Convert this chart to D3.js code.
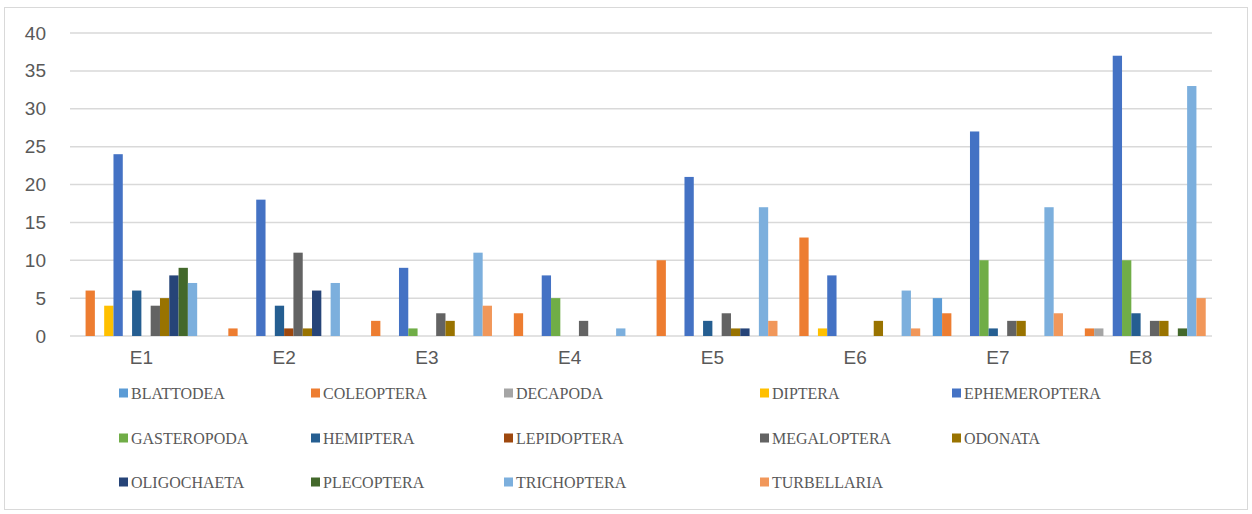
<!DOCTYPE html>
<html>
<head>
<meta charset="utf-8">
<script src="https://cdn.jsdelivr.net/npm/d3@7"></script>
<style>
  html, body { margin: 0; padding: 0; background: #fff; }
  svg { display: block; }
</style>
</head>
<body>
<svg id="chart" width="1252" height="514"></svg>
<script>
// Sampling stations
const stations = ["E1", "E2", "E3", "E4", "E5", "E6", "E7", "E8"];

// Taxa (orders / classes) counted at each station
const taxa = ["BLATTODEA", "COLEOPTERA", "DECAPODA", "DIPTERA", "EPHEMEROPTERA",
  "GASTEROPODA", "HEMIPTERA", "LEPIDOPTERA", "MEGALOPTERA", "ODONATA",
  "OLIGOCHAETA", "PLECOPTERA", "TRICHOPTERA", "TURBELLARIA"];

// Counts per taxon, one value per station E1..E8
const BLATTODEA     = [0, 0, 0, 0, 0, 0, 5, 0];
const COLEOPTERA    = [6, 1, 2, 3, 10, 13, 3, 1];
const DECAPODA      = [0, 0, 0, 0, 0, 0, 0, 1];
const DIPTERA       = [4, 0, 0, 0, 0, 1, 0, 0];
const EPHEMEROPTERA = [24, 18, 9, 8, 21, 8, 27, 37];
const GASTEROPODA   = [0, 0, 1, 5, 0, 0, 10, 10];
const HEMIPTERA     = [6, 4, 0, 0, 2, 0, 1, 3];
const LEPIDOPTERA   = [0, 1, 0, 0, 0, 0, 0, 0];
const MEGALOPTERA   = [4, 11, 3, 2, 3, 0, 2, 2];
const ODONATA       = [5, 1, 2, 0, 1, 2, 2, 2];
const OLIGOCHAETA   = [8, 6, 0, 0, 1, 0, 0, 0];
const PLECOPTERA    = [9, 0, 0, 0, 0, 0, 0, 1];
const TRICHOPTERA   = [7, 7, 11, 1, 17, 6, 17, 33];
const TURBELLARIA   = [0, 0, 4, 0, 2, 1, 3, 5];

const yTicks = [0, 5, 10, 15, 20, 25, 30, 35, 40];

const seriesValues = [BLATTODEA, COLEOPTERA, DECAPODA, DIPTERA, EPHEMEROPTERA,
  GASTEROPODA, HEMIPTERA, LEPIDOPTERA, MEGALOPTERA, ODONATA,
  OLIGOCHAETA, PLECOPTERA, TRICHOPTERA, TURBELLARIA];

const colors = ["#5B9BD5", "#ED7D31", "#A5A5A5", "#FFC000", "#4472C4",
  "#70AD47", "#255E91", "#9E480E", "#636363", "#997300",
  "#264478", "#43682B", "#7CAFDD", "#F1975A"];

const svg = d3.select("#chart");

// outer chart frame
svg.append("rect")
  .attr("x", 4.5).attr("y", 7.5)
  .attr("width", 1243).attr("height", 502)
  .attr("fill", "#fff")
  .attr("stroke", "#d9d9d9").attr("stroke-width", 1);

const plot = { left: 70, right: 1212, top: 33, bottom: 336 };

const x0 = d3.scaleBand().domain(stations).range([plot.left, plot.right]);
const x1 = d3.scaleBand().domain(taxa).range([0, x0.bandwidth()])
  .paddingInner(0).paddingOuter(0.675);
const y = d3.scaleLinear().domain([0, 40]).range([plot.bottom, plot.top]);
const color = d3.scaleOrdinal().domain(taxa).range(colors);

// horizontal gridlines
svg.append("g")
  .selectAll("line")
  .data(yTicks)
  .join("line")
  .attr("x1", plot.left).attr("x2", plot.right)
  .attr("y1", d => y(d)).attr("y2", d => y(d))
  .attr("stroke", "#d9d9d9").attr("stroke-width", 1.5);

// y axis labels
const yAxis = d3.axisLeft(y).tickValues(yTicks).tickSize(0).tickPadding(0);
const yg = svg.append("g")
  .attr("transform", `translate(46,0)`)
  .call(yAxis);
yg.select(".domain").remove();
yg.selectAll("text")
  .attr("font-family", "'Liberation Sans', Arial, sans-serif")
  .attr("font-size", 19)
  .attr("fill", "#595959");

// x axis labels
const xAxis = d3.axisBottom(x0).tickSize(0).tickPadding(0);
const xg = svg.append("g")
  .attr("transform", `translate(0,${plot.bottom + 14})`)
  .call(xAxis);
xg.select(".domain").remove();
xg.selectAll("text")
  .attr("font-family", "'Liberation Sans', Arial, sans-serif")
  .attr("font-size", 19)
  .attr("fill", "#595959");

// clustered bars
const rows = stations.map((s, i) => ({
  station: s,
  values: taxa.map((t, j) => ({ taxon: t, value: seriesValues[j][i] }))
}));

svg.append("g")
  .selectAll("g")
  .data(rows)
  .join("g")
  .attr("transform", d => `translate(${x0(d.station)},0)`)
  .selectAll("rect")
  .data(d => d.values.filter(v => v.value > 0))
  .join("rect")
  .attr("x", d => x1(d.taxon))
  .attr("width", x1.bandwidth())
  .attr("y", d => y(d.value))
  .attr("height", d => y(0) - y(d.value))
  .attr("fill", d => color(d.taxon));

// legend
const legendCols = [119, 311, 504, 760, 952];
const legendRows = [393, 438, 482];
const legend = svg.append("g")
  .selectAll("g")
  .data(taxa)
  .join("g")
  .attr("transform", (d, i) =>
    `translate(${legendCols[i % 5]},${legendRows[Math.floor(i / 5)]})`);

legend.append("rect")
  .attr("x", 0).attr("y", -4.5)
  .attr("width", 9).attr("height", 9)
  .attr("fill", d => color(d));

legend.append("text")
  .attr("x", 12).attr("y", 0)
  .attr("dy", "0.35em")
  .attr("font-family", "'Liberation Serif', 'Times New Roman', serif")
  .attr("font-size", 16)
  .attr("fill", "#595959")
  .text(d => d);
</script>
</body>
</html>
